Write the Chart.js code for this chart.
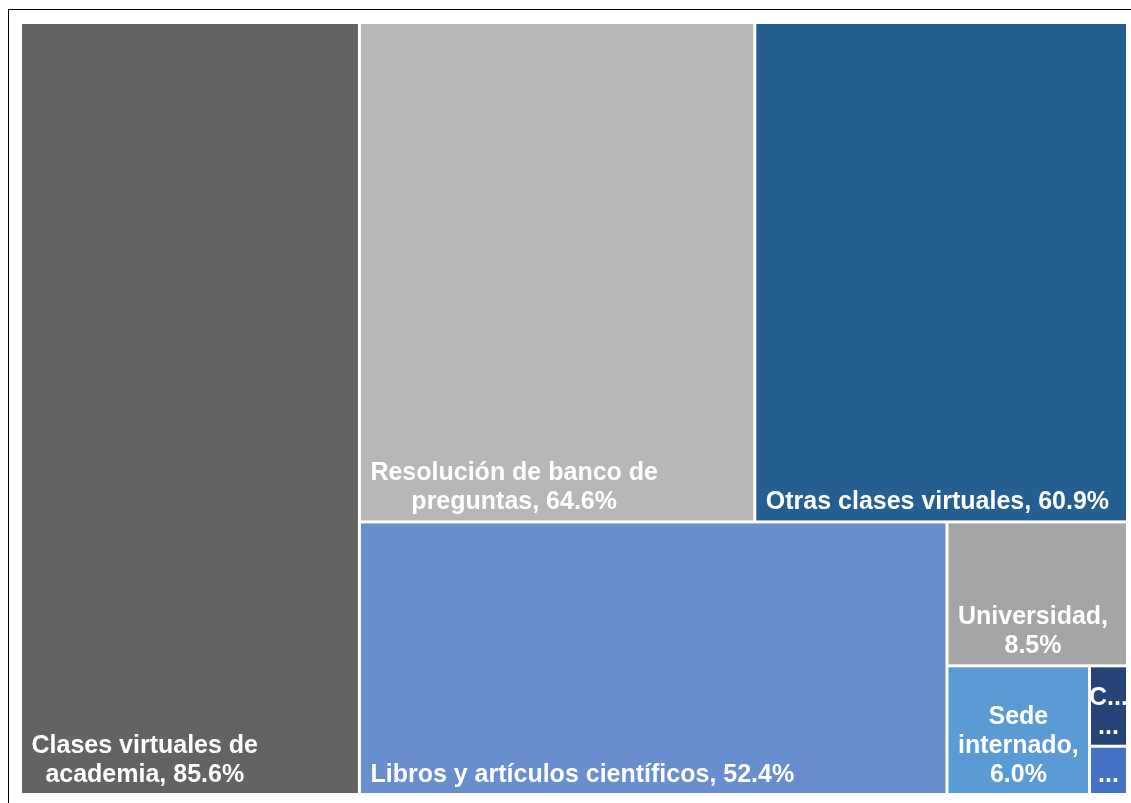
<!DOCTYPE html>
<html>
<head>
<meta charset="utf-8">
<script src="https://cdn.jsdelivr.net/npm/chart.js@4.4.0/dist/chart.umd.min.js"></script>
<style>
  html, body { margin: 0; padding: 0; background: #fff; }
</style>
</head>
<body>
<canvas id="treemap" width="1131" height="803"></canvas>
<script>
const categories = [
  "Clases virtuales de academia",
  "Resolución de banco de preguntas",
  "Otras clases virtuales",
  "Libros y artículos científicos",
  "Universidad",
  "Sede internado",
  "Centro de salud",
  "Otros",
];
const values = [85.6, 64.6, 60.9, 52.4, 8.5, 6.0, 1.0, 0.6];
const colors = ["#636363", "#b7b7b7", "#255e91", "#698ed0", "#a5a5a5", "#5b9bd5", "#264478", "#4472c4"];

// how the remaining space gets cut, in order: number of cells and direction
const strips = [[1, "col"], [2, "row"], [1, "col"], [1, "row"], [1, "col"], [2, "col"]];

function layout(vals) {
  const rect = { x0: 0, y0: 0, x1: 1, y1: 1 };
  let rest = vals.reduce((a, b) => a + b, 0);
  let i = 0;
  const cells = [];
  strips.forEach(([n, dir]) => {
    const group = vals.slice(i, i + n);
    const sum = group.reduce((a, b) => a + b, 0);
    const f = sum / rest;
    if (dir === "col") {
      const xm = rect.x0 + (rect.x1 - rect.x0) * f;
      let y = rect.y0;
      group.forEach((v) => {
        const y2 = y + (rect.y1 - rect.y0) * v / sum;
        cells.push({ x0: rect.x0, x1: xm, y0: y, y1: y2 });
        y = y2;
      });
      rect.x0 = xm;
    } else {
      const ym = rect.y0 + (rect.y1 - rect.y0) * f;
      let x = rect.x0;
      group.forEach((v) => {
        const x2 = x + (rect.x1 - rect.x0) * v / sum;
        cells.push({ x0: x, x1: x2, y0: rect.y0, y1: ym });
        x = x2;
      });
      rect.y0 = ym;
    }
    rest -= sum;
    i += n;
  });
  return cells;
}

const cells = layout(values);

const FONT = "bold 25px 'Liberation Sans', Arial, sans-serif";
const LINE_H = 29;

function fitLines(ctx, text, maxW, maxLines) {
  const words = text.split(" ");
  const lines = [];
  let cur = "";
  words.forEach((w) => {
    const t = cur ? cur + " " + w : w;
    if (ctx.measureText(t).width <= maxW) cur = t;
    else {
      if (cur) lines.push(cur);
      cur = w;
    }
  });
  if (cur) lines.push(cur);
  // words too wide for the cell are cut short
  const out = lines.map((l) => {
    if (ctx.measureText(l).width <= maxW) return l;
    let k = l.length - 1;
    while (k > 1 && ctx.measureText(l.slice(0, k) + "...").width > maxW) k--;
    return l.slice(0, k) + "...";
  });
  if (out.length > maxLines) {
    out.length = maxLines;
    out[maxLines - 1] = "...";
  }
  return out;
}

const treemapPlugin = {
  id: "treemapCells",
  beforeDraw(chart) {
    const ctx = chart.ctx;
    ctx.save();
    ctx.strokeStyle = "#000";
    ctx.lineWidth = 1;
    ctx.strokeRect(8.5, 9.5, 1200, 900);
    ctx.restore();
  },
  afterDatasetsDraw(chart) {
    const ctx = chart.ctx;
    const xs = chart.scales.x;
    const ys = chart.scales.y;
    const gap = 1.5;
    ctx.save();
    cells.forEach((c, i) => {
      const left = xs.getPixelForValue(c.x0) + gap;
      const right = xs.getPixelForValue(c.x1) - gap;
      const top = ys.getPixelForValue(c.y0) + gap;
      const bottom = ys.getPixelForValue(c.y1) - gap;
      const w = right - left;
      const h = bottom - top;
      ctx.fillStyle = colors[i];
      ctx.fillRect(left, top, w, h);

      ctx.font = FONT;
      ctx.fillStyle = "#fff";
      ctx.textAlign = "center";
      ctx.textBaseline = "alphabetic";
      const text = categories[i] + ", " + values[i].toFixed(1) + "%";
      const maxLines = Math.max(1, Math.floor((h - 30) / LINE_H) + 1);
      const lines = fitLines(ctx, text, w - 16, maxLines);
      const blockW = Math.max(...lines.map((l) => ctx.measureText(l).width));
      let bx = left + 9.5;
      if (blockW > w - 16) bx = left + w / 2 - blockW / 2;
      const cx = bx + blockW / 2;
      lines.forEach((l, k) => {
        const yb = bottom - 11 - (lines.length - 1 - k) * LINE_H;
        ctx.fillText(l, cx, yb);
      });
    });
    ctx.restore();
  },
};

new Chart(document.getElementById("treemap"), {
  type: "scatter",
  data: {
    datasets: [
      {
        label: "Uso",
        data: cells.map((c) => ({ x: (c.x0 + c.x1) / 2, y: (c.y0 + c.y1) / 2 })),
        pointRadius: 0,
        pointHoverRadius: 0,
      },
    ],
  },
  options: {
    responsive: false,
    animation: false,
    events: [],
    layout: {
      padding: { left: 20.5, top: 22.5, right: 3.5, bottom: 8.5 },
    },
    scales: {
      x: { type: "linear", min: 0, max: 1, display: false },
      y: { type: "linear", min: 0, max: 1, reverse: true, display: false },
    },
    plugins: {
      legend: { display: false },
      tooltip: { enabled: false },
    },
  },
  plugins: [treemapPlugin],
});
</script>
</body>
</html>
